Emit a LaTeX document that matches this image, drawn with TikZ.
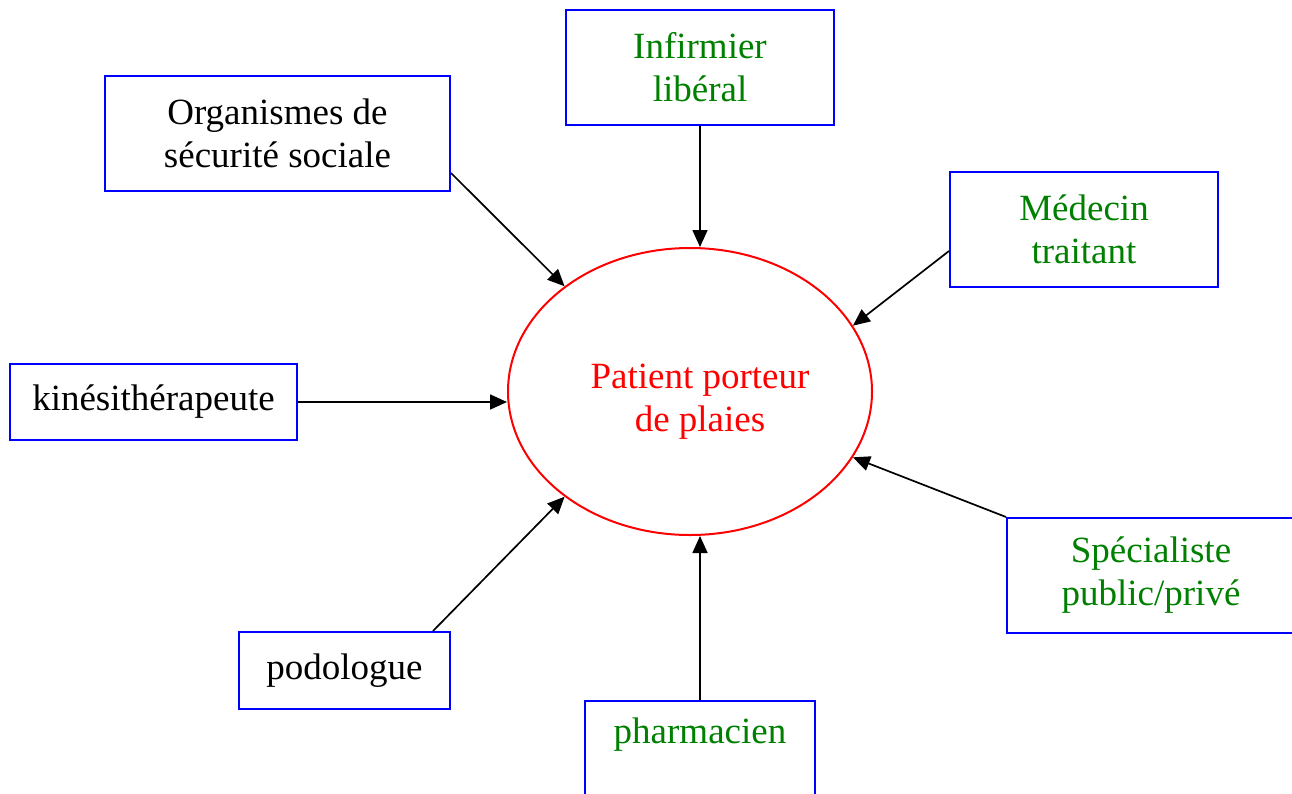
\documentclass[tikz,border=0pt]{standalone}
\usepackage{fontspec}
\setmainfont{Liberation Serif}
\usetikzlibrary{shapes.geometric,arrows.meta,calc}
\definecolor{boxblue}{RGB}{0,0,255}
\definecolor{txtgreen}{RGB}{0,128,0}
\definecolor{ellred}{RGB}{255,0,0}
\begin{document}
\begin{tikzpicture}[x=1pt,y=-1pt,
  actor/.style={draw=boxblue,line width=2pt,rectangle,inner sep=0pt,align=center,
    font=\fontsize{37}{43}\selectfont},
  greentext/.style={text=txtgreen},
  link/.style={draw=black,line width=1.7pt,-{Triangle[length=17pt,width=15pt]}}]
\useasboundingbox (0,0) rectangle (1292,793);
\clip (0,0) rectangle (1292,793);
\fill[white] (0,0) rectangle (1292,793);

\node[draw=ellred,line width=2pt,ellipse,minimum width=364pt,minimum height=287pt,inner sep=0pt]
  (pat) at (690,391.5) {};
\node[text=ellred,align=center,inner sep=0pt,font=\fontsize{37}{43}\selectfont]
  (patlbl) at ([shift={(10,10)}]pat.center) {Patient porteur\\de plaies};

\node[actor,minimum width=345pt,minimum height=115pt] (org) at (277.5,133.5)
  {Organismes de\\sécurité sociale};
\node[actor,greentext,minimum width=268pt,minimum height=115pt] (inf) at (700,67.5)
  {Infirmier\\libéral};
\node[actor,greentext,minimum width=268pt,minimum height=115pt] (med) at (1084,229.5)
  {Médecin\\traitant};
\node[actor,minimum width=287pt,minimum height=76pt] (kine) at (153.5,402)
  {kinésithérapeute};
\node[actor,minimum width=211pt,minimum height=77pt] (podo) at (344.5,670.5)
  {podologue};
\node[actor,greentext,minimum width=230pt,minimum height=115pt] (pha) at (700,758.5)
  {pharmacien\\\strut};
\node[actor,greentext,minimum width=288pt,minimum height=115pt] (spe) at (1151,575.5)
  {Spécialiste\\public/privé};

\draw[link] ([yshift=19pt]org.south east) -- (pat.140);
\draw[link] (inf.south) -- (inf.south |- pat.north);
\draw[link] ([yshift=37pt]med.south west) -- (pat.22.5);
\draw[link] (kine.east) -- (kine.east -| pat.west);
\draw[link] ([xshift=-18pt]podo.north east) -- (pat.220.5);
\draw[link] (pha.north) -- (pha.north |- pat.south);
\draw[link] (spe.north west) -- (pat.-22.7);
\end{tikzpicture}
\end{document}
